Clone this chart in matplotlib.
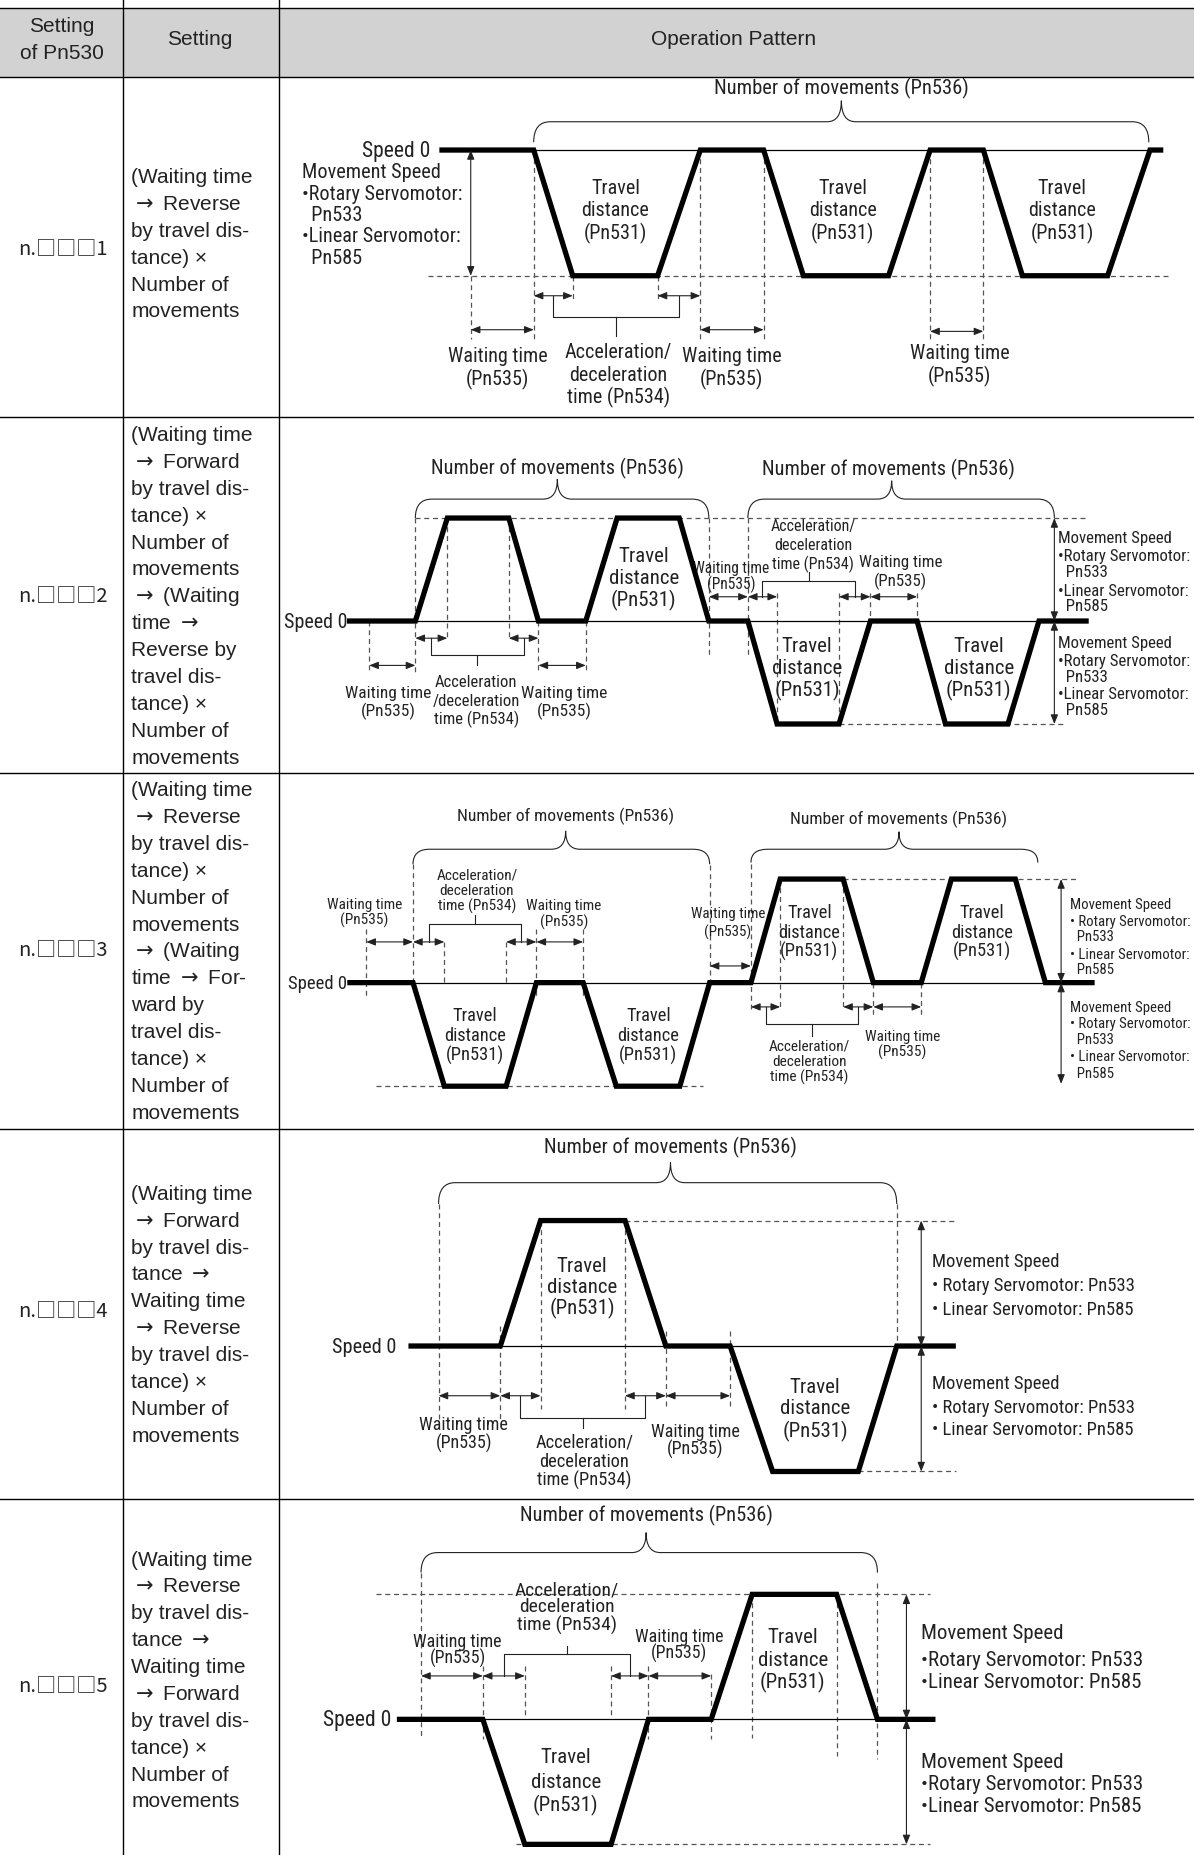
import matplotlib
matplotlib.use("Agg")
import matplotlib.pyplot as plt
from matplotlib import font_manager as fm
from matplotlib.patches import Rectangle, PathPatch, FancyArrowPatch
from matplotlib.path import Path


def pick_font(names):
    for n in names:
        try:
            fm.findfont(fm.FontProperties(family=n), fallback_to_default=False)
            return n
        except Exception:
            pass
    return 'DejaVu Sans'


TABLE_FONT = [pick_font(['Liberation Sans', 'Arial']), 'DejaVu Sans']
CODE_FONT = [pick_font(['Noto Sans CJK JP', 'Noto Sans CJK SC', 'DejaVu Sans']), 'DejaVu Sans']
NARROW = [pick_font(['Liberation Sans Narrow', 'Roboto Condensed', 'Liberation Sans']), 'DejaVu Sans']
plt.rcParams['mathtext.fontset'] = 'dejavusans'

ARW = r'$\rightarrow$'

# ---- table content ----
header = ['Setting\nof Pn530', 'Setting', 'Operation Pattern']
settings = ['n.\u25a1\u25a1\u25a11', 'n.\u25a1\u25a1\u25a12', 'n.\u25a1\u25a1\u25a13',
            'n.\u25a1\u25a1\u25a14', 'n.\u25a1\u25a1\u25a15']
desc1 = ['(Waiting time', ARW + ' Reverse', 'by travel dis-', 'tance) \u00d7',
         'Number of', 'movements']
desc2 = ['(Waiting time', ARW + ' Forward', 'by travel dis-', 'tance) \u00d7',
         'Number of', 'movements', ARW + ' (Waiting', 'time ' + ARW, 'Reverse by',
         'travel dis-', 'tance) \u00d7', 'Number of', 'movements']
desc3 = ['(Waiting time', ARW + ' Reverse', 'by travel dis-', 'tance) \u00d7',
         'Number of', 'movements', ARW + ' (Waiting', 'time ' + ARW + ' For-', 'ward by',
         'travel dis-', 'tance) \u00d7', 'Number of', 'movements']
desc4 = ['(Waiting time', ARW + ' Forward', 'by travel dis-', 'tance ' + ARW,
         'Waiting time', ARW + ' Reverse', 'by travel dis-', 'tance) \u00d7',
         'Number of', 'movements']
desc5 = ['(Waiting time', ARW + ' Reverse', 'by travel dis-', 'tance ' + ARW,
         'Waiting time', ARW + ' Forward', 'by travel dis-', 'tance) \u00d7',
         'Number of', 'movements']

# ---- waveforms: breakpoints (time axis) and speed level (+1 fwd, -1 rev) ----
wave1_t = [373.5, 451, 484, 555.7, 591.8, 645.3, 678.9, 750.9, 786, 831, 864, 936, 971.8, 980.8]
wave1_v = [0, 0, -1, -1, 0, 0, -1, -1, 0, 0, -1, -1, 0, 0]
wave2_t = [295.5, 351, 378, 430, 455, 495, 521.5, 574, 599, 632, 656.7, 709, 735.6, 775,
           799, 851.8, 878, 917.8]
wave2_v = [0, 0, 1, 1, 0, 0, 1, 1, 0, 0, -1, -1, 0, 0, -1, -1, 0, 0]
wave3_t = [295.7, 349, 375.5, 427.7, 453.3, 492.8, 520.8, 574.5, 599.7, 634.6, 659.3, 712.5,
           738, 778.5, 804, 858, 883.4, 922.8]
wave3_v = [0, 0, -1, -1, 0, 0, -1, -1, 0, 0, 1, 1, 0, 0, 1, 1, 0, 0]
wave4_t = [347.4, 422.8, 456.8, 528.2, 562.7, 617, 652.9, 725.3, 757.8, 805.5]
wave4_v = [0, 0, 1, 1, 0, 0, -1, -1, 0, 0]
wave5_t = [337.6, 408, 443.5, 516.4, 548, 601, 635.6, 707, 741.5, 788.3]
wave5_v = [0, 0, -1, -1, 0, 0, 1, 1, 0, 0]

# first waiting-time start for each row
wait0 = [397.8, 312, 309.5, 370.6, 355.8]

# ---- labels ----
num_mov = 'Number of movements (Pn536)'
travel = ['Travel', 'distance', '(Pn531)']
waiting = ['Waiting time', '(Pn535)']
accel = ['Acceleration/', 'deceleration', 'time (Pn534)']
accel2 = ['Acceleration', '/deceleration', 'time (Pn534)']
speed_block_a = ['Movement Speed', '\u2022Rotary Servomotor:', '  Pn533',
                 '\u2022Linear Servomotor:', '  Pn585']
speed_block_b = ['Movement Speed', '\u2022 Rotary Servomotor:', '  Pn533',
                 '\u2022 Linear Servomotor:', '  Pn585']
speed_block_c = ['Movement Speed', '\u2022 Rotary Servomotor: Pn533',
                 '\u2022 Linear Servomotor: Pn585']
speed_block_d = ['Movement Speed', '\u2022Rotary Servomotor: Pn533',
                 '\u2022Linear Servomotor: Pn585']

# ---- figure ----
W, H = 1009, 1568
fig = plt.figure(figsize=(11.94, 18.56), dpi=100)
ax = fig.add_axes([0, 0, 1, 1])
ax.set_xlim(0, W)
ax.set_ylim(H, 0)
ax.axis('off')

DASH = dict(color='#555555', lw=0.9, ls=(0, (4, 3)))
INK = '#222222'


def txt(x, y, s, size=14.5, ha='center', fam=None, **kw):
    ax.text(x, y, s, ha=ha, va='center', fontsize=size,
            family=fam if fam else NARROW, color=INK, **kw)


def block(x, ys, lines, size=14.5, ha='center', fam=None):
    for y, s in zip(ys, lines):
        txt(x, y, s, size=size, ha=ha, fam=fam)


def steps(y0, dy, n):
    return [y0 + i * dy for i in range(n)]


def wave(t, v, y0, amp, x_label, size=15):
    ys = [y0 - lv * amp for lv in v]
    ax.plot([t[0], t[-1]], [y0, y0], color='black', lw=0.9, zorder=3)
    ax.plot(t, ys, color='black', lw=3.8, solid_joinstyle='miter', zorder=4)
    txt(x_label, y0, 'Speed 0', size=size, ha='right')


def vdash(x, y1, y2):
    ax.plot([x, x], [y1, y2], **DASH, zorder=2)


def hdash(x1, x2, y):
    ax.plot([x1, x2], [y, y], **DASH, zorder=2)


def darrow(x1, y1, x2, y2):
    ax.add_patch(FancyArrowPatch((x1, y1), (x2, y2),
                                 arrowstyle='<|-|>,head_length=0.55,head_width=0.22',
                                 mutation_scale=10, lw=0.8, color=INK,
                                 shrinkA=0, shrinkB=0, zorder=5))


def bracket(xa, xb, y_arrow, y_bar, y_stem):
    xm = (xa + xb) / 2
    ax.plot([xa, xa, xb, xb], [y_arrow, y_bar, y_bar, y_arrow], color=INK, lw=0.8)
    ax.plot([xm, xm], [y_bar, y_stem], color=INK, lw=0.8)


def brace(x0, x1, y_tip, y_h, y_apex, xa=None, r=14, r2=12):
    if xa is None:
        xa = (x0 + x1) / 2
    codes = [Path.MOVETO, Path.CURVE3, Path.CURVE3, Path.LINETO, Path.CURVE3, Path.CURVE3,
             Path.MOVETO, Path.CURVE3, Path.CURVE3, Path.LINETO, Path.CURVE3, Path.CURVE3]
    verts = [(x0, y_tip), (x0, y_h), (x0 + r, y_h), (xa - r2, y_h), (xa, y_h), (xa, y_apex),
             (xa, y_apex), (xa, y_h), (xa + r2, y_h), (x1 - r, y_h), (x1, y_h), (x1, y_tip)]
    ax.add_patch(PathPatch(Path(verts, codes), fill=False, lw=0.8, edgecolor=INK))


# ---- table grid ----
col1, col2 = 104, 236
row_lines = [65.5, 353.5, 654, 955, 1267.5]
ax.add_patch(Rectangle((0, 7.5), W, 58, facecolor='#d2d2d2', edgecolor='none', zorder=0))
ax.plot([0, W], [7.5, 7.5], color='black', lw=1.0)
for y in row_lines:
    ax.plot([0, W], [y, y], color='black', lw=1.0)
for x in (col1, col2):
    ax.plot([x, x], [0, H], color='black', lw=1.0)

txt(52, 22, 'Setting', size=15, fam=TABLE_FONT)
txt(52, 45, 'of Pn530', size=15, fam=TABLE_FONT)
txt(169, 33.5, header[1], size=15, fam=TABLE_FONT)
txt(620, 33.5, header[2], size=15, fam=TABLE_FONT)

set_y = [211, 504, 803, 1108, 1425]
desc_y0 = [150, 368, 668, 1009, 1318]
for s, y, d, y0 in zip(settings, set_y, [desc1, desc2, desc3, desc4, desc5], desc_y0):
    txt(53, y, s, size=14.5, fam=CODE_FONT)
    block(111, steps(y0, 22.7, len(d)), d, size=15, ha='left', fam=TABLE_FONT)

# ======== row 1 ========
t = wave1_t
y0, amp = 127.6, 106.2
ybot = y0 + amp
hdash(361.6, 988.7, ybot)
wave(t, wave1_v, y0, amp, 364, size=15.5)
w0 = wait0[0]
darrow(w0, y0, w0, ybot)
vdash(w0, ybot, 287)
for x in (t[1], t[4], t[5], t[8], t[9]):
    vdash(x, y0, 287)
for x in (t[2], t[3]):
    vdash(x, ybot, 254)
darrow(w0, 279.4, t[1], 279.4)
darrow(t[1], 250.7, t[2], 250.7)
darrow(t[3], 250.7, t[4], 250.7)
darrow(t[4], 279.4, t[5], 279.4)
darrow(t[8], 280.8, t[9], 280.8)
bracket((t[1] + t[2]) / 2, (t[3] + t[4]) / 2, 250.7, 269, 284.5)
brace(t[1], t[12] - 1, 121, 103.7, 85.9, xa=711)
txt(711, 74.6, num_mov, size=14.8)
for xc in (520, 712, 897.5):
    block(xc, steps(159, 19, 3), travel)
block(255, steps(146, 18, 5), speed_block_a, ha='left', size=14.6)
block(420.4, [301.4, 321], waiting)
block(618.4, [301.4, 321], waiting)
block(811, [299, 318], waiting)
block(522.4, steps(298, 19, 3), accel)

# ======== row 2 ========
t = wave2_t
y0, amp = 525.5, 87
ytop, ybot = y0 - amp, y0 + amp
hdash(t[1], t[-1], ytop)
hdash(t[11], 901, ybot)
wave(t, wave2_v, y0, amp, 294, size=14.5)
w0 = wait0[1]
vdash(w0, y0, 569)
vdash(t[1], ytop, 569)
for x in (t[2], t[3]):
    vdash(x, ytop, 541)
for x in (t[4], t[5]):
    vdash(x, y0, 569)
for x in (t[8], t[9]):
    vdash(x, ytop, 556)
for x in (t[10], t[11]):
    vdash(x, 502, ybot)
for x in (t[12], t[13]):
    vdash(x, 502, y0)
darrow(w0, 563, t[1], 563)
darrow(t[1], 540, t[2], 540)
darrow(t[3], 540, t[4], 540)
darrow(t[4], 563, t[5], 563)
bracket((t[1] + t[2]) / 2, (t[3] + t[4]) / 2, 540, 554, 563)
darrow(t[8], 505, t[9], 505)
darrow(t[9], 505, t[10], 505)
darrow(t[11], 505, t[12], 505)
darrow(t[12], 505, t[13], 505)
bracket((t[9] + t[10]) / 2, (t[11] + t[12]) / 2, 505, 491.5, 484.5)
xr = 891
darrow(xr, ytop, xr, y0)
darrow(xr, y0, xr, ybot)
brace(t[1], t[8], ytop, 422.5, 405.6, xa=471)
brace(t[9], xr, ytop, 422.5, 407, xa=753.5)
txt(471, 396, num_mov, size=14.7)
txt(751, 396.5, num_mov, size=14.7)
block(544, [470, 489, 507.6], travel, size=15)
block(682, [546.5, 565, 583.6], travel, size=15)
block(827, [546.5, 565, 583.6], travel, size=15)
block(328, [586, 601], waiting, size=12.5)
block(477, [586, 601], waiting, size=12.5)
block(402.6, [577, 592.5, 608], accel2, size=12)
block(687, [445, 461, 477], accel, size=11.5)
block(618, [480, 494], waiting, size=11.2)
block(761, [475.5, 491.5], waiting, size=12.2)
block(894, [455, 470, 484, 499.5, 512.6], speed_block_a, size=12.1, ha='left')
block(894, [544, 559, 572, 587, 600], speed_block_a, size=12.1, ha='left')

# ======== row 3 ========
t = wave3_t
y0, amp = 831, 87.5
ytop, ybot = y0 - amp, y0 + amp
hdash(t[11], 909, ytop)
hdash(318, 593.7, ybot)
wave(t, wave3_v, y0, amp, 293, size=13.4)
w0 = wait0[2]
vdash(w0, 786, 845)
vdash(t[1], 731, y0)
for x in (t[2], t[3]):
    vdash(x, 797, y0)
for x in (t[4], t[5]):
    vdash(x, 786, 845)
vdash(t[8], 732, y0)
vdash(t[9], 731, 853.5)
for x in (t[10], t[11]):
    vdash(x, ytop, 853.5)
for x in (t[12], t[13]):
    vdash(x, y0, 859)
darrow(w0, 796.6, t[1], 796.6)
darrow(t[1], 796.6, t[2], 796.6)
darrow(t[3], 796.6, t[4], 796.6)
darrow(t[4], 796.6, t[5], 796.6)
bracket((t[1] + t[2]) / 2, (t[3] + t[4]) / 2, 796.6, 781.7, 774)
darrow(t[8], 816.9, t[9], 816.9)
darrow(t[9], 851.5, t[10], 851.5)
darrow(t[11], 851.5, t[12], 851.5)
darrow(t[12], 851.5, t[13], 851.5)
bracket((t[9] + t[10]) / 2, (t[11] + t[12]) / 2, 851.5, 866, 876)
xr = 896.7
darrow(xr, ytop, xr, y0)
darrow(xr, y0, xr, ybot - 2)
brace(t[1], t[8], 731, 718.3, 702.8, xa=478)
brace(t[9], 877, 729.6, 718.3, 703.5, xa=759.7)
txt(478, 689.6, num_mov, size=12.6)
txt(759.7, 692.4, num_mov, size=12.6)
block(401.6, [858.6, 875, 891.6], travel, size=13.2)
block(548, [858.6, 875, 891.6], travel, size=13.2)
block(684, [771.3, 788, 804], travel, size=13.2)
block(830, [771.3, 788, 804], travel, size=13.2)
block(308, [764.8, 777.3], waiting, size=11)
block(403, [739.4, 752.4, 765.6], accel, size=11)
block(476.5, [765.6, 778.9], waiting, size=11)
block(615, [772.4, 788], waiting, size=10.8)
block(684, [884, 897, 910], accel, size=11)
block(762.7, [876, 888.7], waiting, size=11)
block(904, [764.8, 779, 791.5, 806.5, 819.7], speed_block_b, size=10.6, ha='left')
block(904, [851.3, 865.4, 878.3, 893, 907], speed_block_b, size=10.6, ha='left')

# ======== row 4 ========
t = wave4_t
y0, amp = 1138, 106
ytop, ybot = y0 - amp, y0 + amp
hdash(t[3], 808, ytop)
hdash(t[7], 808, ybot)
wave(t, wave4_v, y0, amp, 335, size=14.6)
w0 = wait0[3]
vdash(w0, 1018, 1201.4)
vdash(t[1], 1121, 1201)
for x in (t[2], t[3]):
    vdash(x, ytop, 1191.5)
for x in (t[4], t[5]):
    vdash(x, 1125, 1191.5)
vdash(t[8], 1018, y0)
darrow(w0, 1180, t[1], 1180)
darrow(t[1], 1180, t[2], 1180)
darrow(t[3], 1180, t[4], 1180)
darrow(t[4], 1180, t[5], 1180)
bracket((t[1] + t[2]) / 2, (t[3] + t[4]) / 2, 1180, 1198.5, 1207)
xr = 778.5
darrow(xr, ytop, xr, y0)
darrow(xr, y0, xr, ybot)
brace(w0, t[8], 1018, 1000, 983, xa=566.6)
txt(566.6, 969, num_mov, size=14.7)
block(491.8, [1069.8, 1087.5, 1105.6], travel, size=15)
block(688.8, [1171.8, 1190, 1209], travel, size=15)
block(391.8, [1204, 1219.6], waiting, size=13)
block(493.7, [1219, 1235, 1250.6], accel, size=13.2)
block(587.3, [1209.8, 1224.5], waiting, size=13)
block(787.3, [1066, 1086.7, 1106.4], speed_block_c, size=13.4, ha='left')
block(787.3, [1168.9, 1189.2, 1208.4], speed_block_c, size=13.4, ha='left')

# ======== row 5 ========
t = wave5_t
y0, amp = 1453.4, 105.6
ytop, ybot = y0 - amp, y0 + amp
hdash(317.9, 786, ytop)
hdash(436, 786, ybot)
wave(t, wave5_v, y0, amp, 331, size=15.5)
w0 = wait0[4]
vdash(w0, 1329.4, 1470)
vdash(t[1], 1408, 1470)
for x in (t[2], t[3]):
    vdash(x, 1408, 1450)
vdash(t[4], 1408, 1470)
vdash(t[5], 1415, 1470)
vdash(t[6], ytop, 1469)
vdash(t[7], ytop, 1484)
vdash(t[8], 1338, 1487)
darrow(w0, 1416.7, t[1], 1416.7)
darrow(t[1], 1416.7, t[2], 1416.7)
darrow(t[3], 1416.7, t[4], 1416.7)
darrow(t[4], 1416.7, t[5], 1416.7)
bracket((t[1] + t[2]) / 2, (t[3] + t[4]) / 2, 1416.7, 1398.4, 1391.4)
xr = 766
darrow(xr, ytop, xr, y0)
darrow(xr, y0, xr, ybot)
brace(w0, t[8], 1329.4, 1312.5, 1295.6, xa=546)
txt(546, 1280, num_mov, size=14.7)
block(670, [1383, 1402.7, 1421], travel, size=15)
block(478, [1484.4, 1505.5, 1525], travel, size=15)
block(479, [1343.5, 1357.8, 1373], accel, size=14)
block(386.8, [1387, 1401], waiting, size=12.9)
block(574, [1383, 1397], waiting, size=12.9)
block(778.5, [1380, 1402.7, 1421.8], speed_block_d, size=15, ha='left')
block(778.5, [1488.6, 1507.5, 1526], speed_block_d, size=15, ha='left')

fig.savefig('out.png', dpi=100)
